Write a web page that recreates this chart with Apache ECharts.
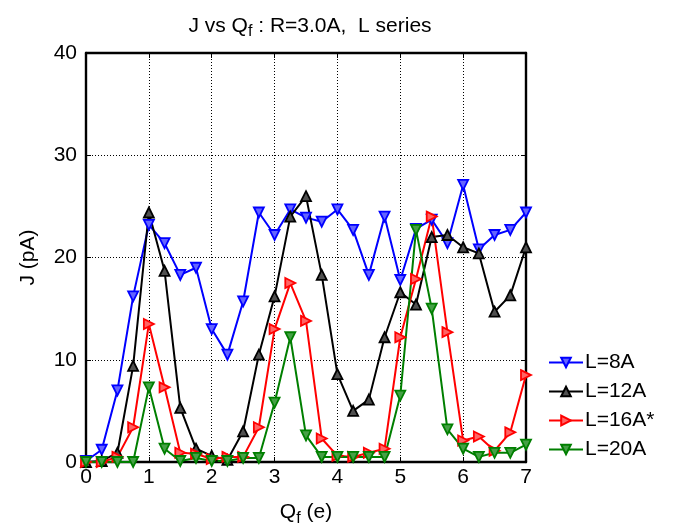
<!DOCTYPE html>
<html>
<head>
<meta charset="utf-8">
<script src="https://cdn.jsdelivr.net/npm/echarts@6/dist/echarts.min.js"></script>
<style>
  html, body { margin: 0; padding: 0; background: #fff; }
  #chart { width: 673px; height: 532px; }
</style>
</head>
<body>
<div id="chart"></div>
<script>
// Charge Qf (e) sampled every 0.25
const qf = [0, 0.25, 0.5, 0.75, 1, 1.25, 1.5, 1.75, 2, 2.25, 2.5, 2.75, 3, 3.25, 3.5,
            3.75, 4, 4.25, 4.5, 4.75, 5, 5.25, 5.5, 5.75, 6, 6.25, 6.5, 6.75, 7];

// Current J (pA) for each L
const jL8 = [0.1, 1.2, 7.0, 16.2, 23.2, 21.4, 18.3, 19.0, 13.0, 10.5, 15.7, 24.4, 22.2, 24.7, 23.9,
             23.5, 24.7, 22.7, 18.3, 24.0, 17.8, 22.8, 23.7, 21.4, 27.1, 20.8, 22.2, 22.7, 24.4];
const jL12 = [0, 0.1, 0.9, 9.4, 24.4, 18.7, 5.3, 1.3, 0.6, 0.2, 3.0, 10.5, 16.2, 24.0, 26.0,
              18.3, 8.6, 5.0, 6.1, 12.2, 16.6, 15.4, 22.0, 22.2, 21.0, 20.4, 14.7, 16.3, 21.0];
const jL16 = [0, 0, 0.5, 3.4, 13.5, 7.3, 0.9, 0.8, 0.3, 0.5, 0.5, 3.4, 13.0, 17.5, 13.8,
              2.3, 0.6, 0.5, 0.9, 1.3, 12.2, 17.9, 24.0, 12.7, 2.1, 2.5, 1.1, 2.9, 8.5];
const jL20 = [0, 0, 0, 0, 7.3, 1.3, 0.1, 0.4, 0.1, 0.1, 0.4, 0.4, 5.8, 12.2, 2.6,
              0.5, 0.5, 0.5, 0.5, 0.5, 6.5, 22.7, 15.0, 3.2, 1.3, 0.5, 0.9, 0.9, 1.7];

const seriesNames = ['L=8A', 'L=12A', 'L=16A*', 'L=20A'];

const FONT = '"Liberation Sans", Arial, Helvetica, sans-serif';
const triDown = 'path://M0,0 L10,0 L5,9 Z';
const triUp = 'path://M5,0 L10,9 L0,9 Z';
const triRight = 'path://M0,0 L9,5 L0,10 Z';

function pairs(ys) { return qf.map((x, i) => [x, ys[i]]); }

function makeSeries(name, ys, color, fill, symbol) {
  return {
    name: name,
    type: 'line',
    data: pairs(ys),
    symbol: symbol,
    symbolSize: 10,
    showSymbol: true,
    lineStyle: { color: color, width: 2 },
    itemStyle: { color: fill, borderColor: color, borderWidth: 1.8 },
    emphasis: { disabled: true },
    animation: false
  };
}

const chart = echarts.init(document.getElementById('chart'), null, { renderer: 'canvas' });

const axisCommon = {
  axisLine: { show: true, onZero: false, lineStyle: { color: '#000', width: 2.4 } },
  axisTick: { show: true, inside: true, length: 5, lineStyle: { color: '#000', width: 1 } },
  axisLabel: { color: '#000', fontSize: 21, fontFamily: FONT }
};

chart.setOption({
  backgroundColor: '#fff',
  animation: false,
  title: {
    text: 'J vs Q{sub|f} : R=3.0A,  L series',
    left: 305,
    top: 7,
    textAlign: 'center',
    textStyle: {
      color: '#000', fontSize: 21, fontWeight: 'normal', fontFamily: FONT,
      rich: {
        sub: { fontSize: 16, color: '#000', fontFamily: FONT, verticalAlign: 'bottom', padding: [12, 0, 0, 0] }
      }
    }
  },
  grid: { left: 86, right: 147, top: 53, bottom: 69, show: false },
  legend: {
    orient: 'vertical',
    left: 543,
    top: 347,
    itemWidth: 34,
    itemHeight: 12,
    itemGap: 8,
    data: seriesNames,
    textStyle: { color: '#000', fontSize: 21, fontFamily: FONT, padding: [0, 0, 0, -3] }
  },
  xAxis: [
    Object.assign({}, axisCommon, {
      type: 'value', min: 0, max: 7, interval: 1, position: 'bottom',
      axisLabel: Object.assign({}, axisCommon.axisLabel, { margin: 5 }),
      splitLine: {
        show: true,
        lineStyle: { color: '#000', width: 1, type: [1, 2] }
      },
      name: 'Q{sub|f} (e)',
      nameLocation: 'middle',
      nameGap: 36,
      nameTextStyle: {
        color: '#000', fontSize: 21, fontFamily: FONT,
        rich: { sub: { fontSize: 16, color: '#000', fontFamily: FONT, padding: [13, 0, 0, 0] } }
      }
    }),
    Object.assign({}, axisCommon, {
      type: 'value', min: 0, max: 7, interval: 1, position: 'top',
      axisLabel: { show: false }, splitLine: { show: false }
    })
  ],
  yAxis: [
    Object.assign({}, axisCommon, {
      type: 'value', min: 0, max: 40, interval: 10, position: 'left',
      axisLabel: Object.assign({}, axisCommon.axisLabel, { margin: 9 }),
      splitLine: {
        show: true,
        lineStyle: { color: '#000', width: 1, type: [1, 2] }
      },
      name: 'J (pA)',
      nameLocation: 'middle',
      nameGap: 47,
      nameTextStyle: { color: '#000', fontSize: 21, fontFamily: FONT }
    }),
    Object.assign({}, axisCommon, {
      type: 'value', min: 0, max: 40, interval: 10, position: 'right',
      axisLabel: { show: false }, splitLine: { show: false }
    })
  ],
  series: [
    makeSeries(seriesNames[0], jL8, '#0000ff', '#6464ff', triDown),
    makeSeries(seriesNames[1], jL12, '#000000', '#505050', triUp),
    makeSeries(seriesNames[2], jL16, '#ff0000', '#ff6464', triRight),
    makeSeries(seriesNames[3], jL20, '#007f00', '#46a046', triDown)
  ]
});
</script>
</body>
</html>
